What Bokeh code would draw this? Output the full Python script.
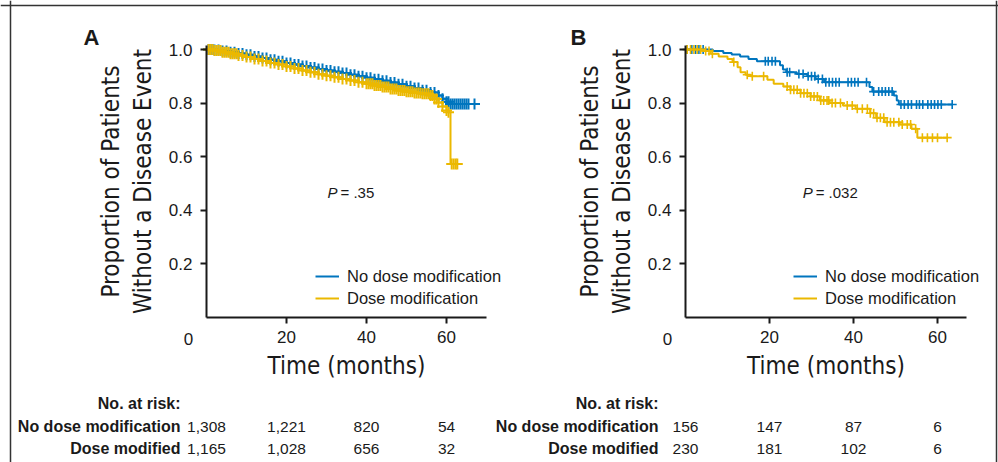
import numpy as np
from bokeh.plotting import figure
from bokeh.models import (Range1d, Legend, LegendItem, FixedTicker, LinearAxis,
                          NumeralTickFormatter, Span)
from bokeh.embed import file_html
from bokeh.resources import INLINE
from bokeh.core.properties import value

BLUE = "#0075BE"
GOLD = "#EBB800"
INK = "#1a1a1a"
SANS = "Liberation Sans"
NARROW = "'DejaVu Sans Condensed', 'Liberation Sans Narrow', sans-serif"

# ---------------- data: panel A ----------------
a_nomod_t = [0, 2, 4, 6, 8, 10, 12, 14, 16, 18, 20, 22, 24, 26, 28, 30, 32, 34, 36, 38,
             40, 42, 44, 46, 48, 50, 52, 54, 56, 58, 59, 60, 61]
a_nomod_s = [1.000, 0.998, 0.994, 0.990, 0.985, 0.980, 0.974, 0.968, 0.962, 0.956, 0.950,
             0.944, 0.938, 0.933, 0.927, 0.922, 0.917, 0.912, 0.906, 0.900, 0.895, 0.889,
             0.883, 0.877, 0.870, 0.863, 0.856, 0.848, 0.840, 0.828, 0.816, 0.805, 0.797]
a_nomod_cens = [0.5, 1, 1.5, 2, 3, 4, 5, 6, 7, 8, 9, 10, 11, 12, 13, 14, 15, 16, 17, 18, 19,
                20, 21, 22, 23, 24, 25, 26, 27, 28, 29, 30, 31, 32, 33, 34, 35, 36, 37, 38,
                39, 40, 41, 42, 43, 44, 45, 46, 47, 48, 49, 50, 51, 52, 53, 54, 55, 56, 57,
                58, 59, 60, 60.5, 61, 61.5, 62, 62.5, 63, 63.5, 64, 64.5, 65, 65.5, 67]
a_mod_t = [0, 2, 4, 6, 8, 10, 12, 14, 16, 18, 20, 22, 24, 26, 28, 30, 32, 34, 36, 38, 40,
           42, 44, 46, 48, 50, 52, 54, 56, 57, 58, 59, 60, 60.5, 61]
a_mod_s = [1.000, 0.996, 0.990, 0.984, 0.978, 0.972, 0.965, 0.957, 0.950, 0.944, 0.937,
           0.929, 0.922, 0.915, 0.908, 0.902, 0.896, 0.890, 0.884, 0.878, 0.872, 0.866,
           0.860, 0.853, 0.847, 0.842, 0.838, 0.835, 0.828, 0.815, 0.802, 0.787, 0.772,
           0.766, 0.573]
a_mod_cens = [0.5, 1, 1.5, 2, 2.5, 3, 3.5, 4, 4.5, 5, 5.5, 6, 6.5, 7, 7.5, 8, 9, 10, 11, 12,
              13, 14, 15, 16, 17, 18, 19, 20, 21, 22, 23, 24, 25, 26, 27, 28, 29, 30, 31, 32,
              33, 34, 35, 36, 37, 38, 39, 40, 40.5, 41, 41.5, 42, 42.5, 43, 43.5, 44, 44.5,
              45, 45.5, 46, 46.5, 47, 47.5, 48, 48.5, 49, 49.5, 50, 50.5, 51, 51.5, 52, 52.5,
              53, 53.5, 54, 54.5, 55, 55.5, 56, 56.5, 57, 57.5, 58, 59, 60, 60.5, 61.3, 61.8,
              62.3, 62.7]
a_risk_nomod = ["1,308", "1,221", "820", "54"]
a_risk_mod = ["1,165", "1,028", "656", "32"]
a_pvalue = ".35"

# ---------------- data: panel B ----------------
b_nomod_t = [0, 6.5, 9, 11, 13, 15, 17, 22.5, 23.2, 24, 26.5, 29, 31, 33, 43.8, 44.5,
             49.6, 50.3, 50.8]
b_nomod_s = [1.0, 0.994, 0.987, 0.981, 0.974, 0.965, 0.956, 0.941, 0.925, 0.915, 0.909,
             0.900, 0.890, 0.878, 0.860, 0.843, 0.828, 0.810, 0.795]
b_nomod_cens = [0.4, 1.5, 2.4, 3.2, 4.2, 19, 19.7, 20.6, 21.4, 24.2, 24.8, 27, 28, 29.2,
                30, 30.8, 31.6, 32.6, 33.4, 34.2, 35, 35.8, 36.6, 38.7, 39.5, 40.3, 41.1,
                43.1, 44.8, 46, 46.8, 47.6, 48.4, 49.2, 51.3, 52.1, 53, 53.8, 55, 55.7,
                56.5, 57.7, 58.5, 59.3, 60.1, 60.9, 63.5]
b_mod_t = [0, 4.3, 6, 7.9, 10, 11.2, 12.4, 13.1, 14.3, 15.5, 19.5, 21, 23.3, 25, 27.4,
           29.8, 32, 34.3, 37.5, 40.5, 44, 45.4, 47.4, 51, 53.8, 55.2]
b_mod_s = [1.0, 0.994, 0.984, 0.974, 0.965, 0.953, 0.934, 0.915, 0.906, 0.900, 0.887,
           0.872, 0.862, 0.850, 0.837, 0.825, 0.810, 0.800, 0.791, 0.779, 0.762, 0.745,
           0.729, 0.720, 0.704, 0.671]
b_mod_cens = [0.4, 1.2, 2, 2.8, 3.6, 4.8, 5.6, 6.4, 11.5, 14.7, 15.9, 18.6, 24.2, 25,
              25.8, 26.6, 27.4, 28.2, 29, 29.8, 30.6, 31.4, 32.2, 32.9, 33.7, 34.1, 34.9,
              35.7, 36.9, 38.5, 39.7, 40.9, 42.1, 43.3, 44, 44.8, 45.6, 46.4, 47.2, 48,
              48.8, 49.6, 50.8, 51.6, 52.8, 53.6, 54.8, 56.4, 57.6, 58.8, 60, 62.3]
b_risk_nomod = ["156", "147", "87", "6"]
b_risk_mod = ["230", "181", "102", "6"]
b_pvalue = ".032"

risk_times = [0, 20, 40, 60]
group_labels = ["No dose modification", "Dose modification"]
risk_row_labels = ["No dose modification", "Dose modified"]
y_ticks = [0.2, 0.4, 0.6, 0.8, 1.0]

# ---------------- layout constants (pixels) ----------------
W, H = 998, 462
Y0_PX = 317          # canvas row of y = 0
Y_PX = 268.0         # pixels per unit of survival
Y_TOP = 1.015
A0_PX, A_PX, A_XEND = 206, 4.0, 70     # canvas column of t=0, px per month
B0_PX, B_PX, B_XEND = 685, 4.2, 67


def dy(px):
    """vertical pixel distance above (+) / below (-) the x axis, in data units"""
    return px / Y_PX


def surv_at(times, surv, t):
    idx = np.searchsorted(np.asarray(times), np.asarray(t), side="right") - 1
    return np.asarray(surv)[idx]


p = figure(width=W, height=H, output_backend="svg", toolbar_location=None,
           x_range=Range1d(-A0_PX / A_PX, (W - A0_PX) / A_PX),
           y_range=Range1d(-(H - Y0_PX) / Y_PX, Y0_PX / Y_PX),
           x_axis_location=None, y_axis_location=None,
           min_border=0, min_border_left=0, min_border_right=0,
           min_border_top=0, min_border_bottom=0)
p.extra_x_ranges = {"b": Range1d(-B0_PX / B_PX, (W - B0_PX) / B_PX)}
p.outline_line_color = None
p.grid.visible = False

# outer frame (top, left, right)
p.add_layout(Span(location=dy(Y0_PX - 5), dimension="width", line_color="#333",
                  line_width=1.5))
p.add_layout(Span(location=(10 - A0_PX) / A_PX, dimension="height", line_color="#333",
                  line_width=1.5))
p.add_layout(Span(location=(996 - A0_PX) / A_PX, dimension="height", line_color="#333",
                  line_width=1.5))


def style_axis(ax):
    ax.axis_line_width = 2
    ax.axis_line_color = INK
    ax.major_tick_line_width = 2
    ax.major_tick_line_color = INK
    ax.major_tick_out = 6
    ax.major_tick_in = 0
    ax.minor_tick_line_color = None
    ax.major_label_text_font = SANS
    ax.major_label_text_font_size = "17px"
    ax.major_label_text_color = INK
    ax.axis_label_text_font = NARROW
    ax.axis_label_text_font_size = "24px"
    ax.axis_label_text_font_style = "normal"
    ax.axis_label_text_color = INK


def panel(rng, x_end, curves, letter, letter_dx, pval, p_x, legend_x, risk_a, risk_b,
          hdr_dx, marker_size, marker_lw):
    kw = {} if rng == "default" else {"x_range_name": rng}

    xa = LinearAxis(fixed_location=0, bounds=(0, x_end),
                    ticker=FixedTicker(ticks=[t for t in risk_times if t > 0]),
                    axis_label="Time (months)", major_label_standoff=7,
                    axis_label_standoff=6, **kw)
    ya = LinearAxis(fixed_location=0, bounds=(0, Y_TOP), ticker=FixedTicker(ticks=y_ticks),
                    formatter=NumeralTickFormatter(format="0.0"),
                    axis_label="Proportion of Patients\nWithout a Disease Event",
                    major_label_standoff=8, axis_label_standoff=9,
                    axis_label_text_line_height=1.15, **kw)
    style_axis(xa)
    style_axis(ya)
    p.add_layout(xa, "below")
    p.add_layout(ya, "left")

    items = []
    for (t, s, cens, color, name) in curves:
        xs = list(t) + [max(cens)]
        ys = list(s) + [s[-1]]
        r = p.step(xs, ys, mode="after", line_color=color, line_width=2, **kw)
        p.scatter(cens, surv_at(t, s, cens), marker="cross", size=marker_size,
                  line_color=color, line_width=marker_lw, **kw)
        items.append(LegendItem(label=name, renderers=[r]))

    txt = dict(text_font=value(SANS), text_color=INK, **kw)
    # origin "0"
    p.text(x=[0], y=[dy(-21)], text=["0"], x_offset=-18, text_font_size="17px",
           text_align="center", text_baseline="middle", **txt)
    # panel letter
    p.text(x=[0], y=[Y_TOP + dy(8)], text=[letter], x_offset=letter_dx,
           text_font_size="22px", text_font_style="bold", text_align="left",
           text_baseline="alphabetic", **txt)
    # P value
    p.text(x=[p_x], y=[dy(125)], text=["P"], text_font_size="15px",
           text_font_style="italic", text_baseline="middle", **txt)
    p.text(x=[p_x], y=[dy(125)], text=["= " + pval], x_offset=13, text_font_size="15px",
           text_baseline="middle", **txt)

    # number at risk table
    row_y = [dy(-86), dy(-109), dy(-131)]
    p.text(x=[0, 0, 0], y=row_y, text=["No. at risk:"] + risk_row_labels,
           x_offset=hdr_dx, text_font_size="16px", text_font_style="bold",
           text_align="right", text_baseline="middle", **txt)
    for vals, yy in ((risk_a, row_y[1]), (risk_b, row_y[2])):
        p.text(x=risk_times, y=[yy] * len(vals), text=vals, text_font_size="15.5px",
               text_align="center", text_baseline="middle", **txt)

    legend = Legend(items=items, location=(legend_x, H - Y0_PX + 8),
                    orientation="vertical", glyph_width=24, glyph_height=22,
                    label_height=22, label_standoff=8, spacing=0, padding=0, margin=0,
                    border_line_color=None, background_fill_alpha=0,
                    label_text_font=SANS, label_text_font_size="16.5px",
                    label_text_color=INK)
    p.add_layout(legend)


panel("default", A_XEND,
      [(a_nomod_t, a_nomod_s, a_nomod_cens, BLUE, group_labels[0]),
       (a_mod_t, a_mod_s, a_mod_cens, GOLD, group_labels[1])],
      "A", -123, a_pvalue, 30.25, A0_PX + 109, a_risk_nomod, a_risk_mod, -26, 11, 2)
panel("b", B_XEND,
      [(b_nomod_t, b_nomod_s, b_nomod_cens, BLUE, group_labels[0]),
       (b_mod_t, b_mod_s, b_mod_cens, GOLD, group_labels[1])],
      "B", -115, b_pvalue, 27.9, B0_PX + 108, b_risk_nomod, b_risk_mod, -27, 9, 1.6)

open("out.html", "w").write(file_html(p, INLINE))
